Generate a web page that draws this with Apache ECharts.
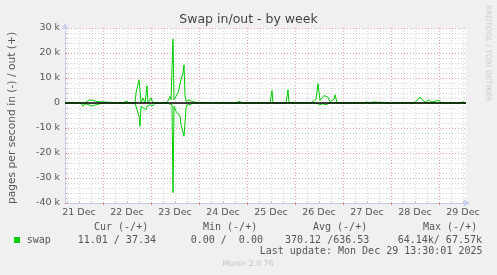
<!DOCTYPE html>
<html>
<head>
<meta charset="utf-8">
<script src="https://cdn.jsdelivr.net/npm/echarts@6/dist/echarts.min.js"></script>
<style>
html,body{margin:0;padding:0;background:#f0f0f0;}
#c{width:497px;height:275px;}
</style>
</head>
<body>
<div id="c"></div>
<script>
// ---- tick data (hours since 21 Dec 00:00) ----
const dayLabels = ['21 Dec','22 Dec','23 Dec','24 Dec','25 Dec','26 Dec','27 Dec','28 Dec','29 Dec'];
const noonHours = [12, 36, 60, 84, 108, 132, 156, 180, 204];
const midnightHours = [24, 48, 72, 96, 120, 144, 168, 192];
const quarterHours = [6,12,18, 30,36,42, 54,60,66, 78,84,90, 102,108,114, 126,132,138, 150,156,162, 174,180,186, 198,204];

// ---- swap out (+), pages per second ----
const outHours = [5,
  13,14,15,16,17,17.5,18,19,19.5,20.5,21.5,22.5,23.5,24.5,25.5,
  34,35.5,36.5,37.5,40,40.5,41,42,42.5,43,44,45,46,46.5,47.5,48,49,
  56,56.5,57.5,58,59,59.5,60.5,61.5,62.5,63,63.5,64,64.5,65,65.5,66,67,67.5,68.5,70,70.5,
  84,85,86,90,91,92,93,94,
  107.5,108.5,109,110,110.5,115.5,116.5,117,118,118.5,119.5,
  128,129,130.5,131.5,132.5,133.5,134.5,135.5,136.5,137.5,138.5,139.5,140,141,142.5,144,
  154,154.5,155.5,156,157.5,158,159,159.5,161.5,162.5,163.5,164,165.5,166,167,
  179,180.5,181.5,182.5,184,185.5,187,188,190,190.5,192,193,
  201.5,202,204,204.5,205.5];
const outValues = [0,
  0,500,0,800,1200,1800,600,1100,1400,700,900,500,700,400,0,
  0,700,1500,0,0,4000,3300,9300,5300,0,2000,0,6900,0,0,2000,0,
  0,600,2600,1300,25600,1300,2600,4000,4700,9300,9800,12000,15300,3000,600,300,1300,500,600,300,0,
  0,300,0,0,300,600,300,0,
  0,5000,0,300,0,0,5300,0,700,300,0,
  0,500,1500,7700,1000,2000,3000,3000,2300,500,300,1500,3300,300,200,0,
  0,400,400,0,0,400,400,0,300,1000,300,0,0,300,0,
  0,500,1300,2400,1000,300,1300,300,700,400,1200,0,
  0,400,400,0,0];

// ---- swap in (-), pages per second (plotted negative) ----
const inHours = [5,
  13,14,15,16.5,17.5,18.5,19.5,21,22.5,24.5,
  40,40.5,41,42,42.5,43,44,45.5,46,47.5,49,50,
  56,58.5,59,59.5,60.5,61.5,62.5,63,64,64.5,65,65.5,66,66.5,67.5,68,69,
  108.5,109,109.5,116.5,117,117.5,
  130.5,131.5,132.5,134,135.5,136.5,137.5,139.5,140,140.5,
  182,182.5,183,186.5,187,187.5,
  205.5];
const inValues = [0,
  0,-1300,-300,-600,0,-1200,-400,-600,-300,0,
  0,-700,-2700,-5300,-9300,-1300,-700,-2700,-1300,-700,-1100,0,
  0,-700,-35800,-1300,-3300,-4000,-5300,-8700,-9300,-13300,-8000,-2000,-700,-1300,-700,-400,0,
  0,-700,0,0,-700,0,
  0,-300,-600,-300,-700,-400,0,0,-600,0,
  0,-300,0,0,-300,0,
  0];

const zip = (xs, ys) => xs.map((x, i) => [x, ys[i]]);

const GREEN = '#00cc00';
const AXIS = '#c6cdf0';
const MAJOR = '#e8a0a0';
const MINOR = '#d4d4d4';
const SANS = '"DejaVu Sans", sans-serif';
const MONO = '"DejaVu Sans Mono", monospace';

const chart = echarts.init(document.getElementById('c'), null, {renderer: 'canvas'});

function txt(text, x, y, font, fill, align, rot) {
  return {
    type: 'text', x: x, y: y, rotation: rot || 0, silent: true, z: 100,
    style: {text: text, font: font, fill: fill, textAlign: align || 'left', textVerticalAlign: 'middle'}
  };
}

chart.setOption({
  animation: false,
  backgroundColor: '#f0f0f0',
  grid: {left: 65, top: 28, width: 401, height: 175, show: true, backgroundColor: '#ffffff', borderWidth: 0, outerBoundsMode: 'none'},
  xAxis: [{
    type: 'value', min: 5, max: 205.5, position: 'bottom',
    axisLine: {show: true, onZero: false, lineStyle: {color: AXIS, width: 1}, symbol: ['none', 'arrow'], symbolSize: [6, 7], symbolOffset: [0, 4]},
    axisTick: {show: true, inside: true, length: 2, customValues: quarterHours, lineStyle: {color: '#bbbbbb'}},
    axisLabel: {show: true, customValues: noonHours, margin: 5, color: '#555', fontFamily: SANS, fontSize: 9.5,
      formatter: v => dayLabels[noonHours.indexOf(v)]},
    splitLine: {show: true, lineStyle: {color: MINOR, width: 1, type: [1, 2]}}
  }, {
    type: 'value', min: 5, max: 205.5, position: 'bottom',
    axisLine: {show: false, onZero: false},
    axisTick: {show: true, inside: false, length: 2, customValues: midnightHours, lineStyle: {color: '#e08080'}},
    axisLabel: {show: false},
    splitLine: {show: true, lineStyle: {color: MAJOR, width: 1, type: [1, 2]}}
  }],
  yAxis: {
    type: 'value', min: -40000, max: 30000, interval: 10000,
    axisLine: {show: true, onZero: false, lineStyle: {color: AXIS, width: 1}, symbol: ['none', 'arrow'], symbolSize: [6, 7], symbolOffset: [0, 5]},
    axisTick: {show: true, inside: true, length: 2, lineStyle: {color: '#e08080'}},
    minorTick: {show: true, splitNumber: 5, length: 2, lineStyle: {color: '#bbbbbb'}},
    axisLabel: {margin: 5, color: '#555', fontFamily: SANS, fontSize: 9.5,
      formatter: v => v === 0 ? '0' : (v / 1000) + ' k'},
    splitLine: {show: true, lineStyle: {color: MAJOR, width: 1, type: [1, 2]}},
    minorSplitLine: {show: true, lineStyle: {color: MINOR, width: 1, type: [1, 2]}}
  },
  series: [{
    name: 'swap out', type: 'line', xAxisIndex: 0, data: zip(outHours, outValues),
    symbol: 'none', showSymbol: false, z: 3,
    lineStyle: {color: GREEN, width: 1},
    markLine: {silent: true, symbol: ['none', 'none'], z: 6, label: {show: false},
      lineStyle: {color: '#000', width: 1.5, type: 'solid'}, data: [{yAxis: 0}]}
  }, {
    name: 'swap in', type: 'line', xAxisIndex: 0, data: zip(inHours, inValues),
    symbol: 'none', showSymbol: false, z: 3,
    lineStyle: {color: GREEN, width: 1}
  }],
  graphic: [
    txt('Swap in/out - by week', 248.5, 19.5, '12.5px ' + SANS, '#444', 'center'),
    txt('pages per second in (-) / out (+)', 12.5, 118, '10.7px ' + SANS, '#555', 'center', Math.PI / 2),
    txt('RRDTOOL / TOBI OETIKER', 487.5, 53.5, '7.5px ' + SANS, '#cccccc', 'center', -Math.PI / 2),
    txt('Cur (-/+)', 94, 227.5, '10px ' + MONO, '#555'),
    txt('Min (-/+)', 203, 227.5, '10px ' + MONO, '#555'),
    txt('Avg (-/+)', 313, 227.5, '10px ' + MONO, '#555'),
    txt('Max (-/+)', 423, 227.5, '10px ' + MONO, '#555'),
    {type: 'rect', shape: {x: 14, y: 237, width: 6, height: 6}, style: {fill: GREEN}, silent: true, z: 100},
    txt('swap', 26.7, 240, '10px ' + MONO, '#555'),
    txt('11.01 / 37.34', 77.7, 240, '10px ' + MONO, '#555'),
    txt('0.00 /  0.00', 190.7, 240, '10px ' + MONO, '#555'),
    txt('370.12 /636.53', 285, 240, '10px ' + MONO, '#555'),
    txt('64.14k/ 67.57k', 397.7, 240, '10px ' + MONO, '#555'),
    txt('Last update: Mon Dec 29 13:30:01 2025', 482.5, 251.8, '10px ' + MONO, '#555', 'right'),
    txt('Munin 2.0.76', 248, 264, '7.8px ' + SANS, '#c4c4c4', 'center')
  ]
});
</script>
</body>
</html>
